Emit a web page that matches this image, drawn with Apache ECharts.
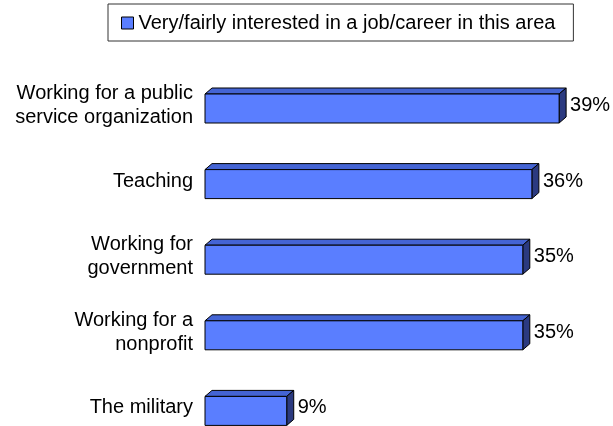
<!DOCTYPE html>
<html>
<head>
<meta charset="utf-8">
<script src="https://cdn.jsdelivr.net/npm/echarts@6/dist/echarts.min.js"></script>
<style>
  html, body { margin: 0; padding: 0; background: #fff; }
  #chart { width: 613px; height: 426px; }
</style>
</head>
<body>
<div id="chart"></div>
<script>
const categories = [
  'Working for a public\nservice organization',
  'Teaching',
  'Working for\ngovernment',
  'Working for a\nnonprofit',
  'The military'
];
const values = [39, 36, 35, 35, 9];
const seriesName = 'Very/fairly interested in a job/career in this area';

const FONT = 'Liberation Sans, Arial, sans-serif';
const FRONT = '#5a7eff';
const TOP = '#4464d4';
const SIDE = '#2b3a80';
const DX = 7, DY = 6;          // depth of the 3D box
const FRONT_H = 29;            // height of the front face

const chart = echarts.init(document.getElementById('chart'), null, { renderer: 'canvas' });

function renderBox(params, api) {
  const v = api.value(0);
  const idx = api.value(1);
  const p0 = api.coord([0, idx]);
  const p1 = api.coord([v, idx]);
  const x0 = p0[0], x1 = p1[0], cy = p0[1];
  const yt = cy - (FRONT_H - DY) / 2;   // top of front face
  const yb = yt + FRONT_H;              // bottom of front face
  const stroke = { stroke: '#000', lineWidth: 1 };
  return {
    type: 'group',
    children: [
      {
        type: 'polygon',
        shape: { points: [[x0, yt], [x0 + DX, yt - DY], [x1 + DX, yt - DY], [x1, yt]] },
        style: Object.assign({ fill: TOP }, stroke)
      },
      {
        type: 'polygon',
        shape: { points: [[x1, yt], [x1 + DX, yt - DY], [x1 + DX, yb - DY], [x1, yb]] },
        style: Object.assign({ fill: SIDE }, stroke)
      },
      {
        type: 'rect',
        shape: { x: x0, y: yt, width: x1 - x0, height: FRONT_H },
        style: Object.assign({ fill: FRONT }, stroke)
      },
      {
        type: 'text',
        style: {
          text: v + '%',
          x: x1 + DX + 4,
          y: cy,
          align: 'left',
          verticalAlign: 'middle',
          font: '20px ' + FONT,
          fill: '#000'
        }
      }
    ]
  };
}

chart.setOption({
  animation: false,
  backgroundColor: '#fff',
  textStyle: { fontFamily: FONT },
  legend: {
    left: 108,
    top: 4,
    padding: [9, 18, 8, 13],
    borderColor: '#333',
    borderWidth: 1,
    itemWidth: 12,
    itemHeight: 12,
    itemGap: 4,
    textStyle: { fontSize: 20, color: '#000', fontFamily: FONT },
    data: [{
      name: seriesName,
      icon: 'rect',
      itemStyle: { color: FRONT, borderColor: '#000', borderWidth: 1 }
    }]
  },
  // categories sit on the grid edges (boundaryGap: false), 75.6px apart
  grid: { left: 205, top: 105.5, width: 363.2, height: 302.4 },
  xAxis: {
    type: 'value',
    min: 0,
    max: 40,
    show: false
  },
  yAxis: {
    type: 'category',
    data: categories,
    inverse: true,
    boundaryGap: false,
    axisLine: { show: false },
    axisTick: { show: false },
    splitLine: { show: false },
    axisLabel: {
      margin: 12,
      fontSize: 20,
      lineHeight: 24,
      color: '#000',
      fontFamily: FONT,
      align: 'right'
    }
  },
  series: [{
    name: seriesName,
    type: 'custom',
    clip: false,
    itemStyle: { color: FRONT },
    encode: { x: 0, y: 1 },
    data: values.map((v, i) => [v, i]),
    renderItem: renderBox
  }]
});
</script>
</body>
</html>
